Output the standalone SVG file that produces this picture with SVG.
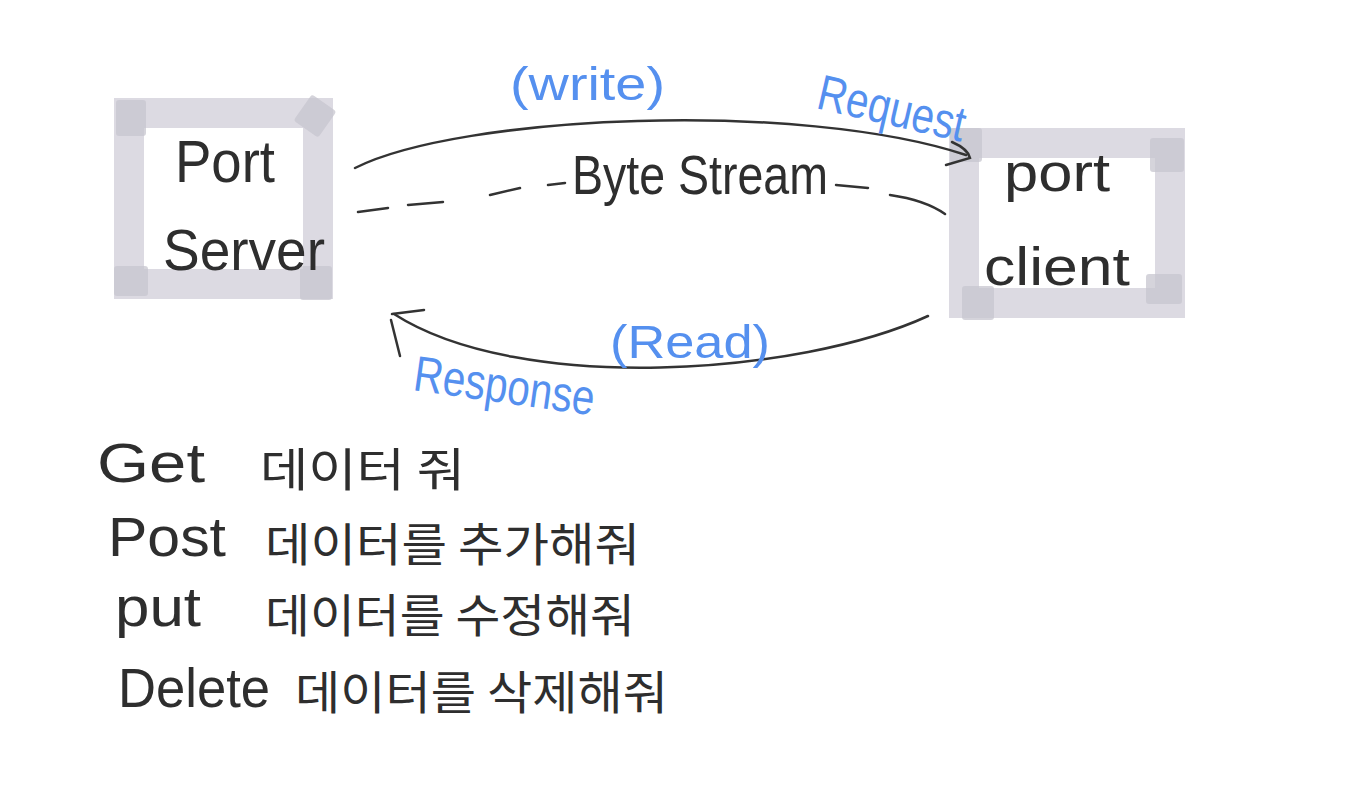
<svg xmlns="http://www.w3.org/2000/svg" width="1350" height="788" viewBox="0 0 1350 788">
  <style>
    .hand { font-family: "Liberation Sans", "Noto Sans CJK KR", sans-serif; fill: #2e2e2e; }
    .kr { font-family: "Noto Sans CJK KR", "Liberation Sans", sans-serif; fill: #2e2e2e; }
    .blue { fill: #5590ef; }
    .frame { fill: none; stroke: #dcdae2; stroke-width: 30; stroke-linejoin: miter; }
    .tape { fill: #c7c5cf; opacity: 0.75; }
    .pencil { fill: none; stroke: #333333; stroke-width: 2.5; stroke-linecap: round; }
  </style>
  <rect width="1350" height="788" fill="#ffffff"/>

  <g id="server">
    <rect class="frame" x="129" y="113" width="189" height="171"/>
    <rect class="tape" x="116" y="100" width="30" height="36" rx="3"/>
    <rect class="tape" x="300" y="100" width="30" height="32" rx="3" transform="rotate(35 315 116)"/>
    <rect class="tape" x="114" y="266" width="34" height="30" rx="3"/>
    <rect class="tape" x="300" y="266" width="32" height="34" rx="3"/>
    <text class="hand" x="175" y="182" font-size="60" textLength="100" lengthAdjust="spacingAndGlyphs">Port</text>
    <text class="hand" x="163" y="270" font-size="58" textLength="162" lengthAdjust="spacingAndGlyphs">Server</text>
  </g>

  <g id="client">
    <rect class="frame" x="964" y="143" width="206" height="160"/>
    <rect class="tape" x="1150" y="138" width="34" height="34" rx="3"/>
    <rect class="tape" x="950" y="128" width="32" height="34" rx="3"/>
    <rect class="tape" x="962" y="286" width="32" height="34" rx="3"/>
    <rect class="tape" x="1146" y="274" width="36" height="30" rx="3"/>
    <text class="hand" x="1004" y="191" font-size="54" textLength="106" lengthAdjust="spacingAndGlyphs">port</text>
    <text class="hand" x="984" y="285" font-size="54" textLength="146" lengthAdjust="spacingAndGlyphs">client</text>
  </g>

  <g id="connectors">
    <g id="request">
      <path class="pencil" d="M355,168 C460,115 800,100 966,155"/>
      <path class="pencil" d="M952,142 Q968,149 970,158 L946,165"/>
      <text class="hand blue" x="510" y="100" font-size="46" textLength="155" lengthAdjust="spacingAndGlyphs">(write)</text>
      <text class="hand blue" x="815" y="108" font-size="50" textLength="150" lengthAdjust="spacingAndGlyphs" transform="rotate(13 815 108)">Request</text>
    </g>
    <g id="byte-stream">
      <path class="pencil" d="M358,212 L388,208 M408,205 L443,202 M490,195 L520,188 M548,185 L565,183 M836,185 L868,188 M890,195 Q925,200 945,214"/>
      <text class="hand" x="572" y="194" font-size="56" textLength="256" lengthAdjust="spacingAndGlyphs">Byte Stream</text>
    </g>
    <g id="response">
      <path class="pencil" d="M928,316 C800,375 520,395 394,314"/>
      <path class="pencil" d="M392,314 L424,310 M391,320 L400,356"/>
      <text class="hand blue" x="610" y="358" font-size="46" textLength="160" lengthAdjust="spacingAndGlyphs">(Read)</text>
      <text class="hand blue" x="412" y="390" font-size="50" textLength="182" lengthAdjust="spacingAndGlyphs" transform="rotate(8 412 390)">Response</text>
    </g>
  </g>

  <g id="methods">
    <text class="hand" x="97" y="482" font-size="56" textLength="108" lengthAdjust="spacingAndGlyphs">Get</text>
    <text class="kr" x="260" y="486" font-size="46" textLength="205" lengthAdjust="spacingAndGlyphs">데이터 줘</text>
    <text class="hand" x="108" y="556" font-size="56" textLength="118" lengthAdjust="spacingAndGlyphs">Post</text>
    <text class="kr" x="265" y="561" font-size="46" textLength="375" lengthAdjust="spacingAndGlyphs">데이터를 추가해줘</text>
    <text class="hand" x="115" y="626" font-size="56" textLength="86" lengthAdjust="spacingAndGlyphs">put</text>
    <text class="kr" x="265" y="632" font-size="46" textLength="370" lengthAdjust="spacingAndGlyphs">데이터를 수정해줘</text>
    <text class="hand" x="118" y="707" font-size="56" textLength="152" lengthAdjust="spacingAndGlyphs">Delete</text>
    <text class="kr" x="295" y="709" font-size="46" textLength="373" lengthAdjust="spacingAndGlyphs">데이터를 삭제해줘</text>
  </g>
</svg>
